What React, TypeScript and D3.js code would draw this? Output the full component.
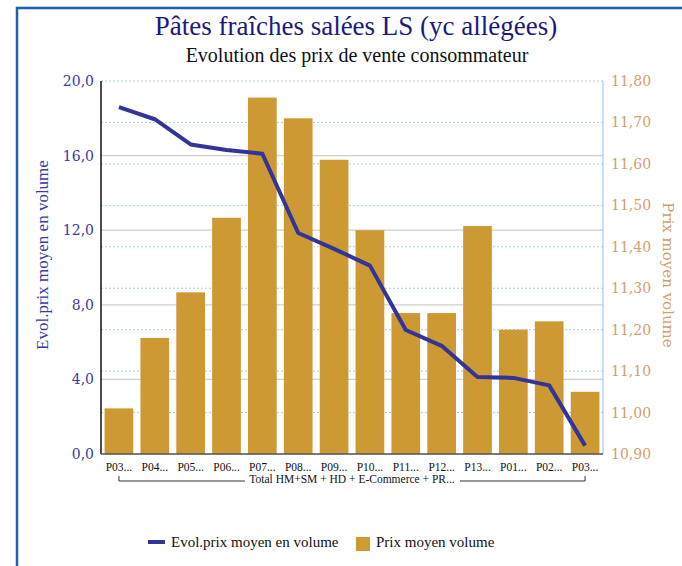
import React from 'react';
import * as d3 from 'd3';

const categories = ["P03...", "P04...", "P05...", "P06...", "P07...", "P08...", "P09...", "P10...", "P11...", "P12...", "P13...", "P01...", "P02...", "P03..."];
const prixMoyen = [11.01, 11.18, 11.29, 11.47, 11.76, 11.71, 11.61, 11.44, 11.24, 11.24, 11.45, 11.20, 11.22, 11.05];
const evolPrix = [18.6, 17.95, 16.6, 16.3, 16.1, 11.85, 11.0, 10.1, 6.65, 5.8, 4.13, 4.08, 3.68, 0.45];
const leftTicks = [0, 4, 8, 12, 16, 20];
const rightTicks = [10.9, 11.0, 11.1, 11.2, 11.3, 11.4, 11.5, 11.6, 11.7, 11.8];
const groupLabel = "Total HM+SM + HD + E-Commerce + PR...";

const W = 682;
const H = 566;
const plot = { left: 101, right: 603, top: 81, bottom: 454 };

const BAR = '#cc9933';
const LINE = '#333399';
const LEFT_TXT = '#3a3aa0';
const RIGHT_TXT = '#d2a070';
const serif = '"DejaVu Serif", serif';
const times = '"Liberation Serif", serif';

const comma = (f: string) => (v: number) => d3.format(f)(v).replace('.', ',');

export default function App() {
  const x = d3.scaleBand<number>()
    .domain(d3.range(categories.length))
    .range([plot.left, plot.right])
    .paddingInner(0.2)
    .paddingOuter(0.1);

  const yL = d3.scaleLinear().domain([0, 20]).range([plot.bottom, plot.top]);
  const yR = d3.scaleLinear().domain([10.9, 11.8]).range([plot.bottom, plot.top]);

  const line = d3.line<number>()
    .x((d, i) => (x(i) as number) + x.bandwidth() / 2)
    .y(d => yL(d));

  const firstC = (x(0) as number) + x.bandwidth() / 2;
  const lastC = (x(categories.length - 1) as number) + x.bandwidth() / 2;
  const bracketY = 481;

  return (
    <svg width={W} height={H} style={{ position: 'absolute', left: 0, top: 0, background: '#fff' }}>
      {/* frame */}
      <path d={`M17,${H} L17,8 L${W},8`} fill="none" stroke="#1f5fb0" strokeWidth={2.5} />

      <text x={356} y={35} textAnchor="middle" fontFamily={times} fontSize={27} fill="#1a1a80">Pâtes fraîches salées LS (yc allégées)</text>
      <text x={357} y={62} textAnchor="middle" fontFamily={times} fontSize={20} fill="#111">Evolution des prix de vente consommateur</text>

      {/* grid */}
      {rightTicks.map(t => (
        <line key={'r' + t} x1={plot.left} x2={plot.right} y1={yR(t)} y2={yR(t)} stroke="#9fcdf0" strokeWidth={1} strokeDasharray="2,2" />
      ))}
      {leftTicks.filter(t => t > 0 && t < 20).map(t => (
        <line key={'l' + t} x1={plot.left} x2={plot.right} y1={yL(t)} y2={yL(t)} stroke="#cfcfcf" strokeWidth={1.2} />
      ))}

      {/* bars */}
      {prixMoyen.map((v, i) => (
        <rect key={i} x={x(i)} y={yR(v)} width={x.bandwidth()} height={plot.bottom - yR(v)} fill={BAR} />
      ))}

      {/* line */}
      <path d={line(evolPrix) || ''} fill="none" stroke={LINE} strokeWidth={4} strokeLinejoin="round" />

      {/* axes */}
      <line x1={plot.left} x2={plot.left} y1={plot.top} y2={plot.bottom} stroke="#111" strokeWidth={1.5} />
      <line x1={plot.right} x2={plot.right} y1={plot.top} y2={plot.bottom} stroke="#a9cdee" strokeWidth={1.2} />
      <line x1={plot.left} x2={plot.right} y1={plot.bottom} y2={plot.bottom} stroke="#555" strokeWidth={1.5} />

      {leftTicks.map(t => (
        <text key={'lt' + t} x={94} y={yL(t) + 5} textAnchor="end" fontFamily={serif} fontSize={14} fill={LEFT_TXT}>{comma('.1f')(t)}</text>
      ))}
      {rightTicks.map(t => (
        <text key={'rt' + t} x={611} y={yR(t) + 5} textAnchor="start" fontFamily={serif} fontSize={14} fill={RIGHT_TXT}>{comma('.2f')(t)}</text>
      ))}

      <text transform={`translate(48,255) rotate(-90)`} textAnchor="middle" fontFamily={times} fontSize={17} fill={LEFT_TXT}>Evol.prix moyen en volume</text>
      <text transform={`translate(663,275) rotate(90)`} textAnchor="middle" fontFamily={serif} fontSize={15} fill={RIGHT_TXT}>Prix moyen volume</text>

      {/* category labels */}
      {categories.map((c, i) => (
        <text key={'c' + i} x={(x(i) as number) + x.bandwidth() / 2} y={471} textAnchor="middle" fontFamily={times} fontSize={11.5} fill="#111">{c}</text>
      ))}
      <text x={352} y={483} textAnchor="middle" fontFamily={times} fontSize={11.5} fill="#111">{groupLabel}</text>
      <path d={`M${firstC},${bracketY - 5} L${firstC},${bracketY} L245,${bracketY} M460,${bracketY} L${lastC},${bracketY} L${lastC},${bracketY - 5}`} fill="none" stroke="#333" strokeWidth={1} />

      {/* legend */}
      <line x1={148} x2={165} y1={542} y2={542} stroke={LINE} strokeWidth={4} />
      <text x={171} y={547} fontFamily={times} fontSize={15} fill="#111">Evol.prix moyen en volume</text>
      <rect x={356} y={537} width={14} height={14} fill={BAR} />
      <text x={376} y={547} fontFamily={times} fontSize={15} fill="#111">Prix moyen volume</text>
    </svg>
  );
}
